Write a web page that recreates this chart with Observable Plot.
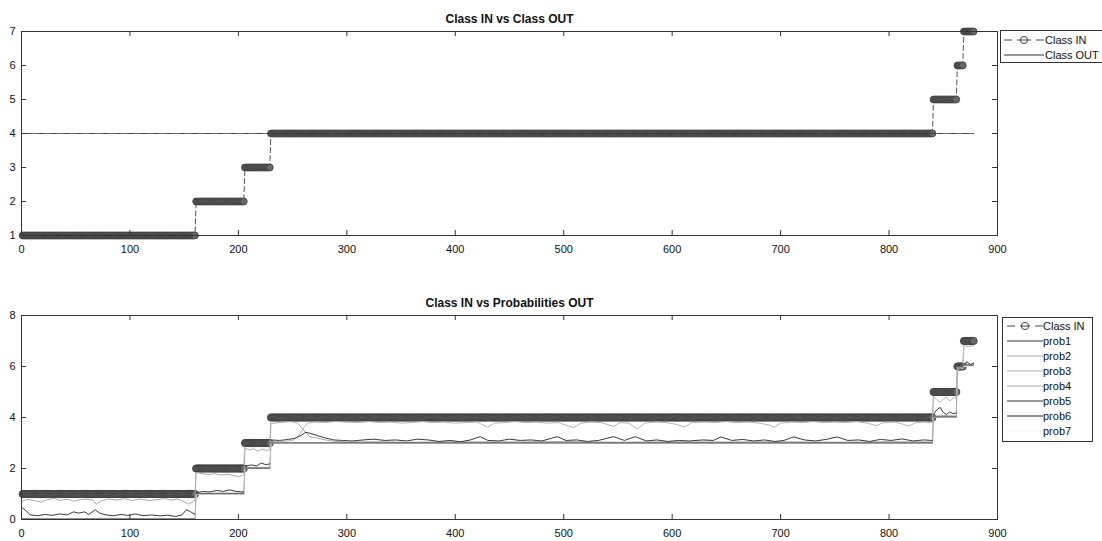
<!DOCTYPE html>
<html><head><meta charset="utf-8">
<script src="https://cdn.jsdelivr.net/npm/d3@7"></script>
<script src="https://cdn.jsdelivr.net/npm/@observablehq/plot@0.6"></script>
<style>
body{margin:0;background:#fff;font-family:"Liberation Sans",Arial,sans-serif;}
#wrap{position:relative;width:1102px;height:541px;overflow:hidden;background:#fff;}
.chart{position:absolute;left:0;}
.legend{position:absolute;border:1px solid #333;background:#fff;font-size:11px;color:#111;box-sizing:border-box;}
.legend span{position:absolute;white-space:nowrap;line-height:14px;}
.legend svg{position:absolute;}
</style></head><body><div id="wrap"></div>
<script>
// ---- data ----
const classLevels = [1, 2, 3, 4, 5, 6, 7];
const segStart = [1, 161, 206, 230, 841, 863, 869];
const segEnd = [160, 205, 229, 840, 862, 868, 878];
const classOutValue = 4;
const nSamples = 878;
const xTicks = [0, 100, 200, 300, 400, 500, 600, 700, 800, 900];
const yTicksTop = [1, 2, 3, 4, 5, 6, 7];
const yTicksBottom = [0, 2, 4, 6, 8];

const prob1 = [[1,0.45],[4,0.35],[8,0.18],[15,0.15],[22,0.2],[28,0.16],[35,0.22],[42,0.18],[48,0.3],[53,0.25],[58,0.3],[62,0.2],[68,0.38],[72,0.25],[78,0.18],[85,0.15],[92,0.2],[98,0.16],[105,0.22],[112,0.15],[120,0.18],[128,0.14],[135,0.17],[142,0.12],[148,0.18],[152,0.38],[156,0.3],[160,0.2],
 [161,1.05],[167,1.1],[174,1.08],[180,1.14],[186,1.1],[192,1.16],[198,1.1],[205,1.08],
 [206,2.1],[212,2.14],[217,2.1],[221,2.22],[225,2.15],[229,2.18],
 [230,3.12],[238,3.1],[246,3.14],[252,3.18],[258,3.3],[262,3.42],[266,3.38],[272,3.3],[280,3.2],[288,3.12],[296,3.1],[305,3.08],[315,3.12],[325,3.15],[335,3.1],[345,3.12],[355,3.08],[365,3.15],[375,3.12],[385,3.06],[395,3.1],[405,3.05],[414,3.12],[423,3.25],[430,3.1],[440,3.08],[450,3.15],[460,3.1],[470,3.12],[480,3.08],[494,3.25],[502,3.1],[512,3.12],[522,3.06],[532,3.1],[546,3.25],[556,3.1],[566,3.25],[576,3.08],[586,3.12],[596,3.06],[606,3.1],[616,3.08],[628,3.12],[638,3.1],[645,3.24],[655,3.1],[665,3.14],[675,3.08],[685,3.12],[695,3.06],[703,3.1],[712,3.24],[722,3.12],[732,3.08],[742,3.14],[752,3.24],[762,3.1],[772,3.12],[782,3.06],[792,3.14],[802,3.1],[812,3.16],[822,3.08],[832,3.12],[840,3.1],
 [841,4.12],[844,4.3],[847,4.4],[850,4.2],[853,4.12],[856,4.22],[859,4.15],[862,4.18],
 [863,6.02],[866,6.08],[868,6.05],
 [869,6.1],[872,6.18],[875,6.08],[878,6.14]];

const prob2 = [[1,0.72],[6,0.8],[12,0.74],[18,0.68],[24,0.78],[30,0.82],[36,0.75],[42,0.8],[48,0.72],[54,0.78],[60,0.8],[66,0.76],[69,0.6],[74,0.74],[80,0.8],[88,0.76],[95,0.82],[102,0.75],[110,0.8],[118,0.74],[125,0.78],[132,0.82],[138,0.76],[144,0.8],[150,0.7],[154,0.6],[158,0.7],[160,0.76],
 [161,1.85],[166,1.8],[172,1.76],[178,1.8],[184,1.74],[190,1.78],[196,1.72],[201,1.68],[205,1.76],
 [206,2.8],[210,2.72],[214,2.78],[218,2.68],[222,2.76],[226,2.7],[229,2.74],
 [230,3.76],[236,3.8],[242,3.82],[248,3.84],[254,3.8],[258,3.62],[262,3.4],[266,3.25],[272,3.2],[280,3.12],[290,3.06],[300,3.04],[330,3.05],[360,3.03],[400,3.05],[450,3.04],[500,3.06],[550,3.03],[600,3.05],[650,3.04],[700,3.05],[750,3.03],[800,3.05],[840,3.04],
 [841,4.05],[850,4.08],[862,4.06],
 [863,5.95],[868,5.95],
 [869,6.08],[872,6.12],[875,6.05],[878,6.1]];

const prob3 = [[1,0.04],[40,0.02],[80,0.05],[120,0.03],[160,0.04],
 [161,1.03],[205,1.04],
 [206,2.04],[229,2.05],
 [230,3.05],[240,3.06],[250,3.1],[256,3.3],[260,3.6],[264,3.78],[270,3.82],[280,3.8],[290,3.84],[300,3.82],[310,3.8],[320,3.84],[330,3.8],[340,3.82],[350,3.78],[360,3.8],[370,3.84],[380,3.8],[390,3.82],[400,3.78],[410,3.8],[420,3.82],[430,3.62],[436,3.78],[445,3.8],[455,3.84],[465,3.8],[475,3.82],[485,3.78],[495,3.8],[502,3.7],[509,3.6],[516,3.78],[525,3.82],[535,3.8],[546,3.65],[552,3.8],[560,3.78],[568,3.55],[575,3.78],[585,3.82],[595,3.8],[605,3.72],[611,3.62],[618,3.8],[630,3.82],[640,3.8],[650,3.84],[660,3.8],[670,3.82],[680,3.78],[690,3.7],[694,3.62],[700,3.78],[710,3.82],[720,3.8],[730,3.84],[740,3.8],[750,3.82],[760,3.8],[770,3.84],[780,3.78],[788,3.68],[795,3.8],[805,3.82],[812,3.75],[818,3.66],[825,3.8],[832,3.82],[840,3.8],
 [841,4.8],[844,4.7],[847,4.6],[850,4.72],[853,4.8],[856,4.65],[859,4.75],[862,4.78],
 [863,5.88],[866,5.92],[868,5.9],
 [869,6.82],[873,6.78],[878,6.82]];

const prob4 = [[1,0.0],[160,0.0],[161,1.0],[205,1.0],[206,2.0],[229,2.0],[230,3.0],[840,3.0],[841,4.02],[862,4.02],[863,6.0],[868,6.0],[869,6.05],[878,6.05]];
const prob5 = [[1,0.01],[160,0.01],[161,1.01],[205,1.01],[206,2.01],[229,2.01],[230,3.0],[840,3.0],[841,4.02],[862,4.02],[863,6.0],[868,6.0],[869,6.05],[878,6.05]];
const prob6 = [[1,0.02],[160,0.02],[161,1.02],[205,1.02],[206,2.02],[229,2.02],[230,3.01],[840,3.01],[841,4.03],[862,4.03],[863,6.01],[868,6.01],[869,6.06],[878,6.06]];
const prob7 = [[1,0.0],[160,0.0],[161,1.0],[205,1.0],[206,2.0],[229,2.0],[230,3.0],[840,3.0],[841,4.0],[862,4.0],[863,6.0],[868,6.0],[869,6.0],[878,6.0]];

const probNames = ["prob1","prob2","prob3","prob4","prob5","prob6","prob7"];
const probSeries = [prob1, prob2, prob3, prob4, prob5, prob6, prob7];
const probColors = ["#3a3a3a","#a9a9a9","#b4b4b4","#b8b8b8","#555555","#4a4a4a","#f4f4f4"];
const probDark = [true, false, false, false, true, true, false];

// ---- tables ----
const classIn = [];
classLevels.forEach((lv, k) => { for (let i = segStart[k]; i <= segEnd[k]; i++) classIn.push({x: i, y: lv}); });
const classOut = d3.range(1, nSamples + 1).map(i => ({x: i, y: classOutValue}));
const segOf = x => d3.bisectRight(segStart, x) - 1;

const W = 1102, mL = 21, mR = 105, plotW = W - mL - mR;
const FONT = "Liberation Sans, Arial, sans-serif";

function panel({yDomain, yTicks, height, marginTop, marginBottom, title, marks}) {
  const plotH = height - marginTop - marginBottom;
  return Plot.plot({
    width: W, height, marginLeft: mL, marginRight: mR, marginTop, marginBottom,
    x: {domain: [0, 900]},
    y: {domain: yDomain},
    style: {fontFamily: FONT, fontSize: "11px", color: "#111", background: "#fff", overflow: "visible"},
    marks: [
      ...marks,
      Plot.frame({stroke: "#333", strokeWidth: 1}),
      Plot.tickX(xTicks, {x: d => d, insetTop: plotH - 5, stroke: "#333"}),
      Plot.tickX(xTicks, {x: d => d, insetBottom: plotH - 5, stroke: "#333"}),
      Plot.tickY(yTicks, {y: d => d, insetRight: plotW - 5, stroke: "#333"}),
      Plot.tickY(yTicks, {y: d => d, insetLeft: plotW - 5, stroke: "#333"}),
      Plot.axisX({ticks: xTicks, tickSize: 0, tickPadding: 10, label: null, fill: "#111", tickFormat: d => String(d)}),
      Plot.axisY({ticks: yTicks, tickSize: 0, tickPadding: 6, label: null, fill: "#111", tickFormat: d => String(d)}),
      Plot.text([title], {frameAnchor: "top", dy: -17, text: d => d, fontWeight: "bold", fontSize: 12, fill: "#111"})
    ]
  });
}

const topChart = panel({
  yDomain: [1, 7], yTicks: yTicksTop, height: 260, marginTop: 31, marginBottom: 25,
  title: "Class IN vs Class OUT",
  marks: [
    Plot.line(classIn, {x: "x", y: "y", stroke: "#555", strokeWidth: 1, strokeDasharray: "5,3"}),
    Plot.dot(classIn, {x: "x", y: "y", r: 3.4, fill: "#686868", stroke: "#3e3e3e", strokeWidth: 0.8}),
    Plot.line(classOut, {x: "x", y: "y", stroke: "#3a3a3a", strokeWidth: 1})
  ]
});

const probMarks = [];
// prob7 (almost white) first so it does not hide the others
[6, 3, 2, 1, 5, 4, 0].forEach(k => {
  probMarks.push(Plot.line(probSeries[k], {
    x: d => d[0], y: d => d[1], stroke: probColors[k], strokeWidth: 1,
    z: probDark[k] ? (d => segOf(d[0])) : null,
    strokeOpacity: (k === 4 || k === 5) ? 0.6 : 1
  }));
});

const bottomChart = panel({
  yDomain: [0, 8], yTicks: yTicksBottom, height: 271, marginTop: 45, marginBottom: 22,
  title: "Class IN vs Probabilities OUT",
  marks: [
    Plot.line(classIn, {x: "x", y: "y", stroke: "#c4c4c4", strokeWidth: 1}),
    Plot.dot(classIn, {x: "x", y: "y", r: 3.6, fill: "#686868", stroke: "#3e3e3e", strokeWidth: 0.8}),
    ...probMarks
  ]
});

const wrap = document.getElementById("wrap");
topChart.classList.add("chart"); topChart.style.top = "0px";
bottomChart.classList.add("chart"); bottomChart.style.top = "270px";
wrap.appendChild(topChart); wrap.appendChild(bottomChart);

// ---- legends ----
const NS = "http://www.w3.org/2000/svg";
function sampleSvg(w, kind, color) {
  const s = document.createElementNS(NS, "svg");
  s.setAttribute("width", w); s.setAttribute("height", 14);
  const ln = (x1, x2, c) => { const l = document.createElementNS(NS, "line");
    l.setAttribute("x1", x1); l.setAttribute("x2", x2); l.setAttribute("y1", 7); l.setAttribute("y2", 7);
    l.setAttribute("stroke", c); l.setAttribute("stroke-width", 1); s.appendChild(l); };
  if (kind === "classin") {
    ln(0, 8, "#444"); ln(13, w - 13, "#444"); ln(w - 8, w, "#444");
    const c = document.createElementNS(NS, "circle");
    c.setAttribute("cx", w / 2); c.setAttribute("cy", 7); c.setAttribute("r", 3.6);
    c.setAttribute("fill", "none"); c.setAttribute("stroke", "#444"); c.setAttribute("stroke-width", 1);
    s.appendChild(c);
  } else {
    ln(0, w, color);
  }
  return s;
}
function legend({left, top, width, height, padTop, sampleLeft, sampleWidth, textLeft, rows}) {
  const box = document.createElement("div");
  box.className = "legend";
  Object.assign(box.style, {left: left + "px", top: top + "px", width: width + "px", height: height + "px"});
  rows.forEach((r, i) => {
    const cy = padTop + i * 15.1 + 7;
    const s = sampleSvg(sampleWidth, r.kind, r.color);
    s.style.left = sampleLeft + "px"; s.style.top = (cy - 7) + "px";
    box.appendChild(s);
    const t = document.createElement("span");
    t.textContent = r.label; t.style.left = textLeft + "px"; t.style.top = (cy - 7) + "px";
    box.appendChild(t);
  });
  wrap.appendChild(box);
}
const legendColors = ["#333","#aaa","#b0b0b0","#aaa","#333","#222","#f4f4f4"];
legend({left: 1000, top: 30, width: 104, height: 33, padTop: 1.5, sampleLeft: 3, sampleWidth: 40, textLeft: 44,
  rows: [{label: "Class IN", kind: "classin"}, {label: "Class OUT", kind: "line", color: "#333"}]});
legend({left: 1002, top: 317, width: 91, height: 125, padTop: 0.5, sampleLeft: 4, sampleWidth: 36, textLeft: 40,
  rows: [{label: "Class IN", kind: "classin"}].concat(probNames.map((n, k) => ({label: n, kind: "line", color: legendColors[k]})))});
</script></body></html>
